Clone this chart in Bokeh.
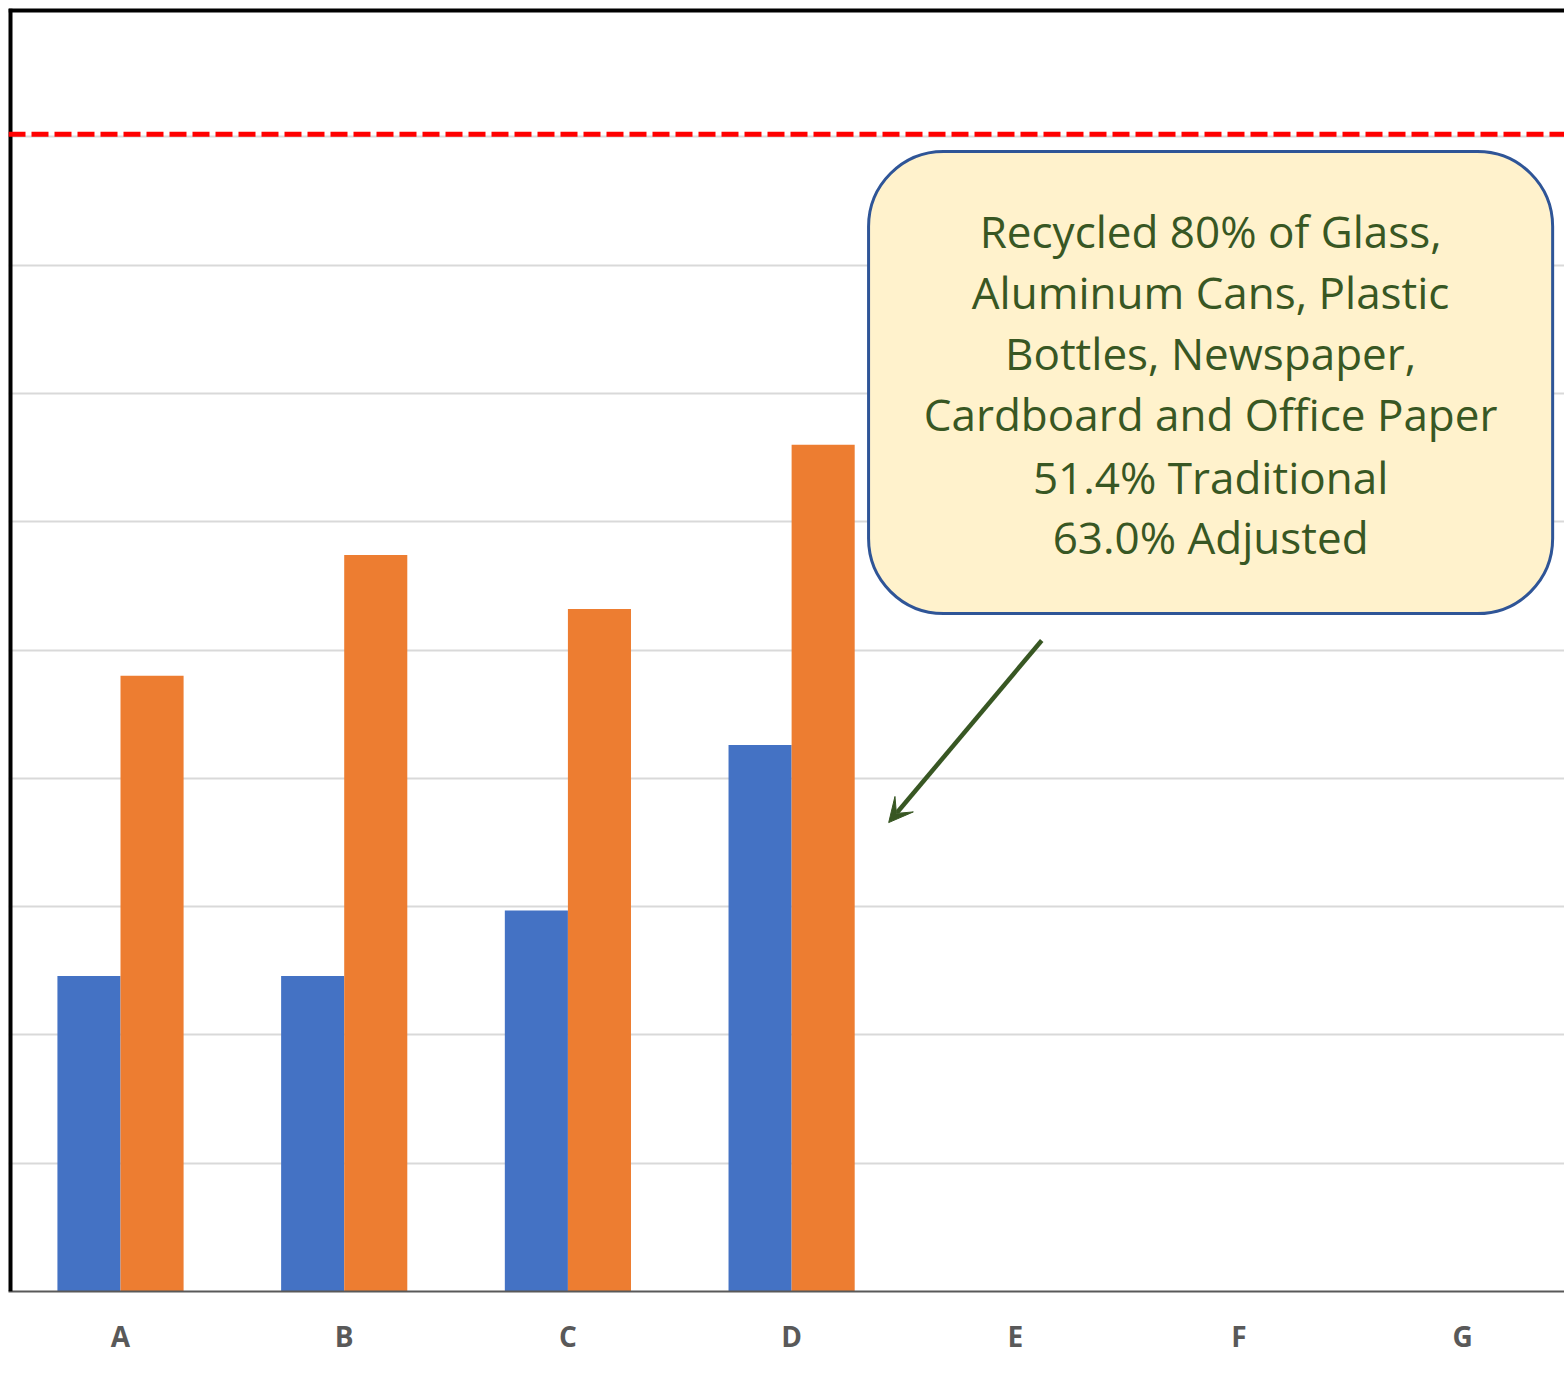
from bokeh.plotting import figure
from bokeh.models import (Range1d, FixedTicker, Span, BoxAnnotation, Label,
                          Arrow, VeeHead, ColumnDataSource)
from bokeh.transform import dodge
from bokeh.embed import file_html
from bokeh.resources import INLINE

# ---- data ----
categories = ["A", "B", "C", "D", "E", "F", "G"]
traditional = [24.6, 24.6, 29.7, 42.6]     # blue
adjusted = [48.0, 57.4, 53.2, 66.0]        # orange
goal_value = 90.2                           # red dashed goal line
grid_values = [0, 10, 20, 30, 40, 50, 60, 70, 80, 90]
callout_lines = [
    "Recycled 80% of Glass,",
    "Aluminum Cans, Plastic",
    "Bottles, Newspaper,",
    "Cardboard and Office Paper",
    "51.4% Traditional",
    "63.0% Adjusted",
]

BLUE = "#4472C4"
ORANGE = "#ED7D31"
GREEN = "#385723"

idx = list(range(len(categories)))
src = ColumnDataSource(dict(x=idx[:len(traditional)], trad=traditional, adj=adjusted))

p = figure(width=1564, height=1364, output_backend="svg", toolbar_location=None,
           x_range=Range1d(-0.5007, 6.455), y_range=Range1d(0, 100),
           y_axis_location=None, min_border_left=8, min_border_right=0,
           min_border_top=8, min_border_bottom=73, outline_line_color=None)

p.vbar(x=dodge("x", -0.141, range=p.x_range), top="trad", width=0.282,
       source=src, fill_color=BLUE, line_color=None)
p.vbar(x=dodge("x", 0.141, range=p.x_range), top="adj", width=0.282,
       source=src, fill_color=ORANGE, line_color=None)

# grid
p.xgrid.visible = False
p.ygrid.ticker = FixedTicker(ticks=grid_values)
p.ygrid.grid_line_color = "#D9D9D9"
p.ygrid.grid_line_width = 2

# x axis
p.xaxis.ticker = FixedTicker(ticks=idx)
p.xaxis.major_label_overrides = {i: c for i, c in zip(idx, categories)}
p.xaxis.major_tick_line_color = None
p.xaxis.minor_tick_line_color = None
p.xaxis.axis_line_color = "#595959"
p.xaxis.axis_line_width = 2
p.xaxis.major_label_text_font = "Open Sans"
p.xaxis.major_label_text_font_size = "28px"
p.xaxis.major_label_text_font_style = "bold"
p.xaxis.major_label_text_color = "#595959"
p.xaxis.major_label_standoff = 19

# frame borders (left and top)
p.add_layout(Span(location=p.x_range.start, dimension="height",
                  line_color="black", line_width=8))
p.add_layout(Span(location=p.y_range.end, dimension="width",
                  line_color="black", line_width=8))

# goal line
p.add_layout(Span(location=goal_value, dimension="width", line_color="#FF0000",
                  line_width=5, line_dash="17 6"))

# callout box
p.add_layout(BoxAnnotation(left=3.344, right=6.402, top=88.85, bottom=52.84,
                           fill_color="#FFF2CC", fill_alpha=1.0,
                           line_color="#2F5597", line_width=3, line_alpha=1.0,
                           border_radius=75, level="annotation"))

line_ys = [82.62, 77.87, 73.11, 68.36, 63.52, 58.77]
for txt, yy in zip(callout_lines, line_ys):
    p.add_layout(Label(x=4.873, y=yy, text=txt, text_align="center",
                       text_baseline="middle", text_font="Open Sans",
                       text_font_size="44px", text_color=GREEN))

p.add_layout(Arrow(end=VeeHead(size=24, fill_color=GREEN, line_color=GREEN),
                   x_start=4.118, y_start=50.74, x_end=3.434, y_end=36.55,
                   line_color=GREEN, line_width=4.5))

open("out.html", "w").write(file_html(p, INLINE))
